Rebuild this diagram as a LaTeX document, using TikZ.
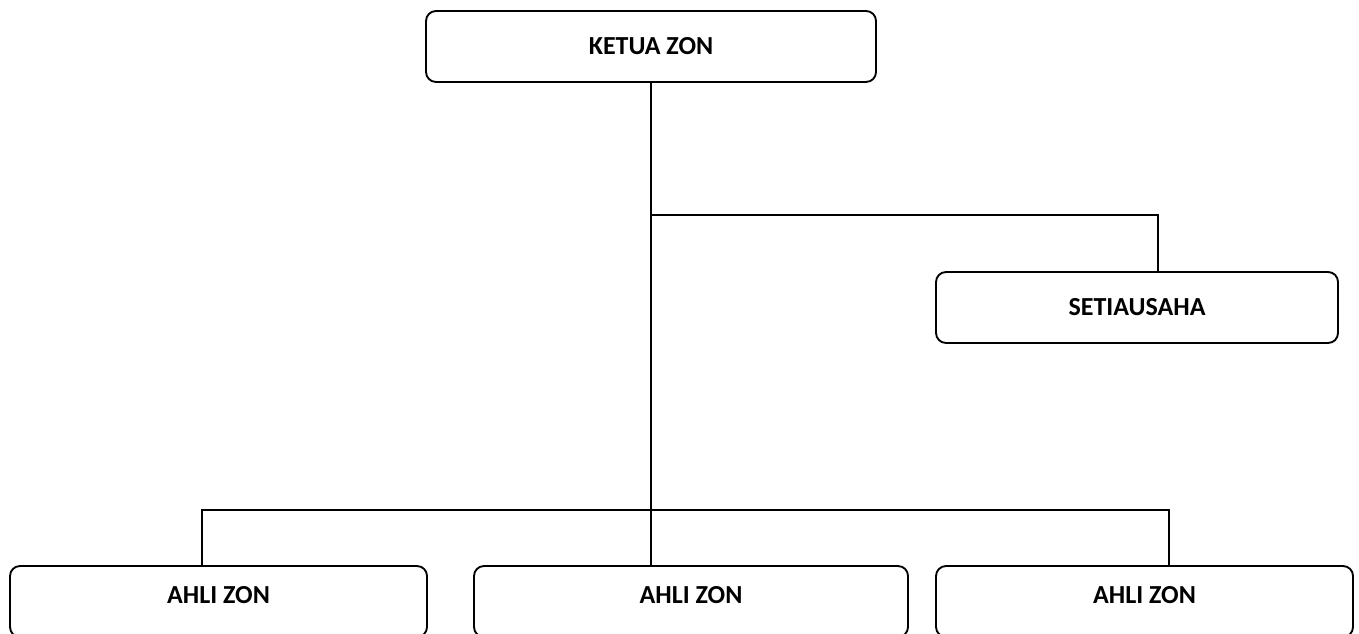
\documentclass[tikz,border=0pt]{standalone}
\usepackage{fontspec}
\setmainfont{Carlito}
\begin{document}
\begin{tikzpicture}[x=0.75pt,y=-0.75pt,
  box/.style={draw,line width=1.4pt,rounded corners=7.5pt,minimum height=53.25pt,inner sep=0pt,font=\fontsize{19.5}{23}\selectfont\bfseries},
  conn/.style={line width=1.4pt}]
\useasboundingbox (0,0) rectangle (1359,634);
\node[box,minimum width=337.5pt] (ketua) at (651,46.5) {KETUA ZON};
\node[box,minimum width=301.5pt] (setia) at (1137,307.5) {SETIAUSAHA};
\node[box,minimum width=312.75pt,label={[font=\fontsize{19.5}{23}\selectfont\bfseries,yshift=4.5pt]center:AHLI ZON}] (a1) at (218.5,601.5) {};
\node[box,minimum width=325.5pt,label={[font=\fontsize{19.5}{23}\selectfont\bfseries,yshift=4.5pt]center:AHLI ZON}] (a2) at (691,601.5) {};
\node[box,minimum width=312.75pt,label={[font=\fontsize{19.5}{23}\selectfont\bfseries,yshift=4.5pt]center:AHLI ZON}] (a3) at (1144.5,601.5) {};
\coordinate (j1) at (651,215);
\coordinate (j2) at (651,510);
\draw[conn] (ketua.south) -- (ketua.south |- a2.north);
\draw[conn] (j1) -| ([xshift=15.75pt]setia.north);
\draw[conn] ([xshift=-12.4pt]a1.north) |- (j2) -| ([xshift=18.4pt]a3.north);
\end{tikzpicture}
\end{document}
